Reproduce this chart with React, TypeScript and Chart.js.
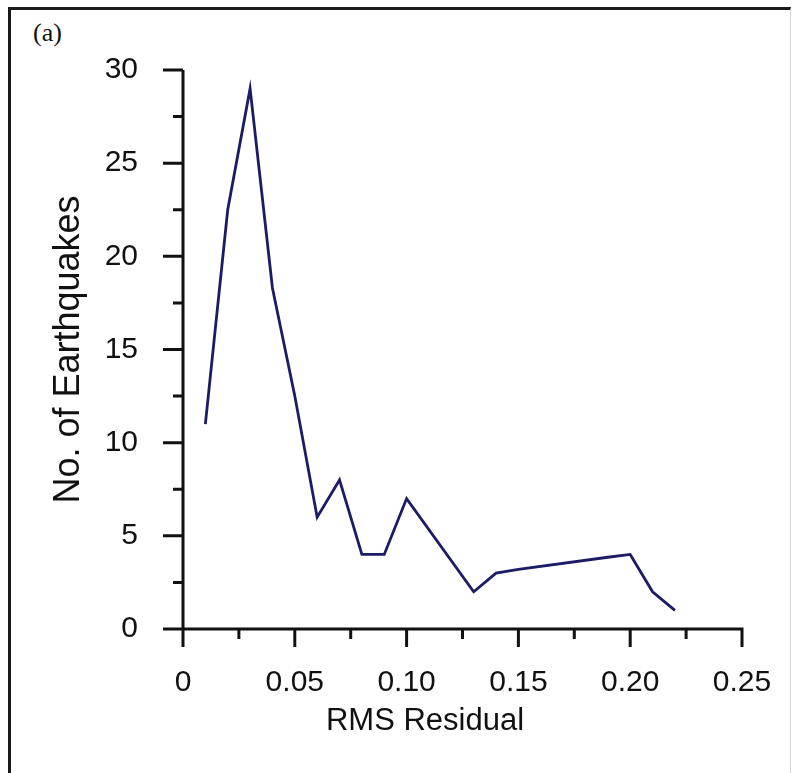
import React, { useEffect, useRef } from "react";
import { Chart, registerables } from "chart.js";

Chart.register(...registerables);

// RMS residual bins and the number of earthquakes in each
const rmsResidual = [0.01, 0.02, 0.03, 0.04, 0.05, 0.06, 0.07, 0.08, 0.09, 0.1, 0.13, 0.14, 0.15, 0.19, 0.2, 0.21, 0.22];
const earthquakeCounts = [11, 22.5, 29, 18.3, 12.5, 6, 8, 4, 4, 7, 2, 3, 3.2, 3.85, 4, 2, 1];

// Axis tick positions (labelled majors, unlabelled minors)
const xMajorTicks = [0, 0.05, 0.1, 0.15, 0.2, 0.25];
const xMinorTicks = [0.025, 0.075, 0.125, 0.175, 0.225];
const yMajorTicks = [0, 5, 10, 15, 20, 25, 30];
const yMinorTicks = [2.5, 7.5, 12.5, 17.5, 22.5, 27.5];

const X_TITLE = "RMS Residual";
const Y_TITLE = "No. of Earthquakes";

const FONT = '"Liberation Sans", Arial, Helvetica, sans-serif';
const INK = "#111111";

// Draws the axis lines with outward-pointing major and minor tick marks,
// plus the x-axis title set slightly left of the axis centre
const axisFramePlugin = {
  id: "axisFrame",
  afterDatasetsDraw(chart: any) {
    const { ctx, scales } = chart;
    const x = scales.x;
    const y = scales.y;
    const x0 = x.getPixelForValue(xMajorTicks[0]);
    const y0 = y.getPixelForValue(yMajorTicks[0]);
    const xEnd = x.getPixelForValue(xMajorTicks[xMajorTicks.length - 1]);
    const yTop = y.getPixelForValue(yMajorTicks[yMajorTicks.length - 1]);
    ctx.save();
    ctx.strokeStyle = INK;
    ctx.lineWidth = 3;
    ctx.lineCap = "butt";
    ctx.beginPath();
    ctx.moveTo(x0, yTop);
    ctx.lineTo(x0, y0 + 1.5);
    ctx.moveTo(x0 - 1.5, y0);
    ctx.lineTo(xEnd + 1.5, y0);
    for (const v of yMajorTicks) {
      const py = y.getPixelForValue(v);
      ctx.moveTo(x0 - 20, py);
      ctx.lineTo(x0, py);
    }
    for (const v of yMinorTicks) {
      const py = y.getPixelForValue(v);
      ctx.moveTo(x0 - 10, py);
      ctx.lineTo(x0, py);
    }
    for (const v of xMajorTicks) {
      const px = x.getPixelForValue(v);
      ctx.moveTo(px, y0);
      ctx.lineTo(px, y0 + 18);
    }
    for (const v of xMinorTicks) {
      const px = x.getPixelForValue(v);
      ctx.moveTo(px, y0);
      ctx.lineTo(px, y0 + 10);
    }
    ctx.stroke();

    ctx.fillStyle = INK;
    ctx.font = `31px ${FONT}`;
    ctx.textAlign = "center";
    ctx.textBaseline = "middle";
    ctx.fillText(X_TITLE, x0 + 242, y0 + 92);
    ctx.restore();
  },
};

function RmsHistogram() {
  const canvasRef = useRef<HTMLCanvasElement | null>(null);

  useEffect(() => {
    const canvas = canvasRef.current;
    if (!canvas) return;
    const chart = new Chart(canvas, {
      type: "line",
      data: {
        datasets: [
          {
            data: rmsResidual.map((r, i) => ({ x: r, y: earthquakeCounts[i] })),
            borderColor: "#1d1b66",
            borderWidth: 2.8,
            pointRadius: 0,
            tension: 0,
            fill: false,
            clip: false as any,
          },
        ],
      },
      options: {
        animation: false,
        responsive: false,
        maintainAspectRatio: false,
        layout: { padding: { top: 70, right: 51, left: 0, bottom: 0 } },
        plugins: {
          legend: { display: false },
          tooltip: { enabled: false },
        },
        scales: {
          x: {
            type: "linear",
            min: 0,
            max: 0.25,
            grid: { display: false, drawTicks: false },
            border: { display: false },
            ticks: {
              stepSize: 0.05,
              padding: 36,
              color: INK,
              maxRotation: 0,
              autoSkip: false,
              font: { family: FONT, size: 30 },
              callback: (v: any) => (Number(v) === 0 ? "0" : Number(v).toFixed(2)),
            },
            afterFit: (s: any) => {
              s.height = 144;
              s.paddingLeft = 0;
              s.paddingRight = 0;
            },
          },
          y: {
            type: "linear",
            min: 0,
            max: 30,
            grid: { display: false, drawTicks: false },
            border: { display: false },
            ticks: {
              stepSize: 5,
              padding: 45,
              color: INK,
              font: { family: FONT, size: 30 },
            },
            title: {
              display: true,
              text: Y_TITLE,
              color: INK,
              font: { family: FONT, size: 36 },
              padding: { top: 47, bottom: 0 },
            },
            afterFit: (s: any) => {
              s.width = 183;
              s.paddingTop = 0;
              s.paddingBottom = 0;
            },
          },
        },
      },
      plugins: [axisFramePlugin],
    });
    return () => chart.destroy();
  }, []);

  return (
    <div style={{ position: "relative", width: 793, height: 773, background: "#ffffff", overflow: "hidden" }}>
      <div
        style={{
          position: "absolute",
          left: 8,
          top: 7,
          width: 779,
          height: 780,
          borderLeft: "3px solid #1a1a1a",
          borderTop: "3px solid #1a1a1a",
          borderRight: "1px solid #d8d8d8",
          pointerEvents: "none",
        }}
      />
      <div
        style={{
          position: "absolute",
          left: 33,
          top: 19,
          fontFamily: '"Liberation Serif", "Times New Roman", serif',
          fontSize: 26,
          color: INK,
          lineHeight: "28px",
        }}
      >
        (a)
      </div>
      <canvas ref={canvasRef} width={793} height={773} style={{ position: "absolute", left: 0, top: 0, display: "block" }} />
    </div>
  );
}

export default function App() {
  return (
    <>
      <style>{"html,body{margin:0;padding:0;background:#fff;}"}</style>
      <RmsHistogram />
    </>
  );
}
